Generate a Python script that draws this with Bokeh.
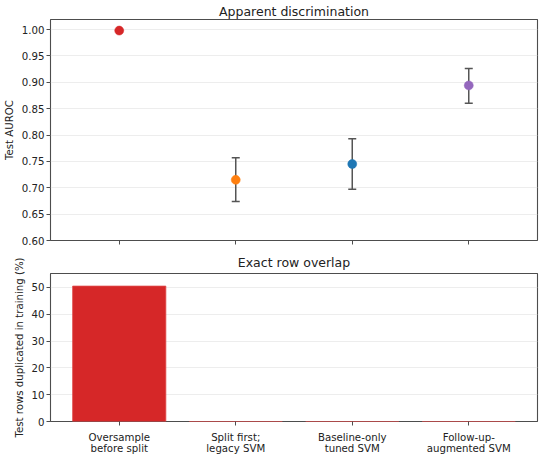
from bokeh.plotting import figure
from bokeh.layouts import column
from bokeh.models import FixedTicker, Range1d, ColumnDataSource, NumeralTickFormatter, CustomLabelingPolicy
from bokeh.embed import file_html
from bokeh.resources import INLINE

# ---- data ----
categories = ["Oversample\nbefore split", "Split first;\nlegacy SVM",
              "Baseline-only\ntuned SVM", "Follow-up-\naugmented SVM"]
auroc = [0.998, 0.715, 0.745, 0.894]
auroc_lo = [None, 0.674, 0.697, 0.860]
auroc_hi = [None, 0.757, 0.793, 0.926]
overlap_pct = [50.5, 0.0, 0.0, 0.0]
colors = ["#d62728", "#ff7f0e", "#1f77b4", "#9467bd"]
auroc_ticks = [0.60, 0.65, 0.70, 0.75, 0.80, 0.85, 0.90, 0.95, 1.00]
overlap_ticks = [0, 10, 20, 30, 40, 50]

xs = list(range(len(categories)))
FONT = "DejaVu Sans"
TXT = "#222222"
EDGE = "#4d4d4d"
GRID = "#ebebeb"

def style(p):
    p.toolbar_location = None
    p.outline_line_color = EDGE
    p.outline_line_width = 1.1
    p.xgrid.visible = False
    p.ygrid.grid_line_color = GRID
    p.ygrid.grid_line_width = 0.9
    p.title.text_font = FONT
    p.title.text_font_size = "12.5px"
    p.title.text_font_style = "normal"
    p.title.text_color = TXT
    p.title.align = "center"
    p.title.offset = 0
    for ax in (p.xaxis[0], p.yaxis[0]):
        ax.axis_line_color = None
        ax.major_tick_line_color = EDGE
        ax.major_tick_line_width = 1
        ax.major_tick_out = 4
        ax.major_tick_in = 0
        ax.minor_tick_line_color = None
        ax.major_label_text_font = FONT
        ax.major_label_text_font_size = "10.2px"
        ax.major_label_text_color = TXT
        ax.axis_label_text_font = FONT
        ax.axis_label_text_font_size = "10.2px"
        ax.axis_label_text_font_style = "normal"
        ax.axis_label_text_color = TXT
    p.yaxis[0].major_label_standoff = 2
    p.yaxis[0].axis_label_standoff = 4

x_range = Range1d(-0.59, 3.59)

# ---- top: AUROC ----
p1 = figure(width=540, height=248, output_backend="svg", toolbar_location=None,
            title="Apparent discrimination", x_range=x_range,
            y_range=Range1d(0.60, 1.019),
            min_border_left=41, min_border_right=3, min_border_bottom=5, min_border_top=0)
style(p1)
p1.title.standoff = 2
p1.yaxis.axis_label = "Test AUROC"
p1.yaxis.ticker = FixedTicker(ticks=auroc_ticks)
p1.yaxis.formatter = NumeralTickFormatter(format="0.00")
p1.xaxis.ticker = FixedTicker(ticks=xs)
p1.xaxis.major_label_standoff = 0
p1.xaxis.axis_label_standoff = 0
p1.xaxis.major_label_text_font_size = "1px"
p1.xaxis.major_label_policy = CustomLabelingPolicy(code="""
    for (const i of indices)
        indices.unset(i)
""")

ci_idx = [i for i in xs if auroc_lo[i] is not None]
ci = ColumnDataSource(dict(x=[xs[i] for i in ci_idx],
                           lo=[auroc_lo[i] for i in ci_idx],
                           hi=[auroc_hi[i] for i in ci_idx]))
p1.segment(x0="x", y0="lo", x1="x", y1="hi", source=ci, line_color="#555555", line_width=1.5)
p1.scatter(x="x", y="lo", source=ci, marker="dash", size=8, line_color="#555555", line_width=1.5)
p1.scatter(x="x", y="hi", source=ci, marker="dash", size=8, line_color="#555555", line_width=1.5)
pts = ColumnDataSource(dict(x=xs, y=auroc, c=colors))
p1.scatter(x="x", y="y", source=pts, size=9, fill_color="c", line_color="c", line_width=0.5)

# ---- bottom: overlap ----
p2 = figure(width=540, height=209, output_backend="svg", toolbar_location=None,
            title="Exact row overlap", x_range=x_range,
            y_range=Range1d(0, 55.2),
            min_border_left=41, min_border_right=3, min_border_bottom=0, min_border_top=0)
style(p2)
p2.title.standoff = 8
p2.yaxis.axis_label = "Test rows duplicated in training (%)"
p2.yaxis.ticker = FixedTicker(ticks=overlap_ticks)
p2.xaxis.ticker = FixedTicker(ticks=xs)
p2.xaxis.major_label_overrides = {i: categories[i] for i in xs}
p2.xaxis.major_label_standoff = 6
p2.xaxis.major_label_text_line_height = 1.05
bars = ColumnDataSource(dict(x=xs, top=overlap_pct))
p2.vbar(x="x", top="top", bottom=0, width=0.8, source=bars,
        fill_color=colors[0], line_color="#e04a4a", line_width=0.8)

layout = column(p1, p2, spacing=0)
open("out.html", "w").write(file_html(layout, INLINE))
